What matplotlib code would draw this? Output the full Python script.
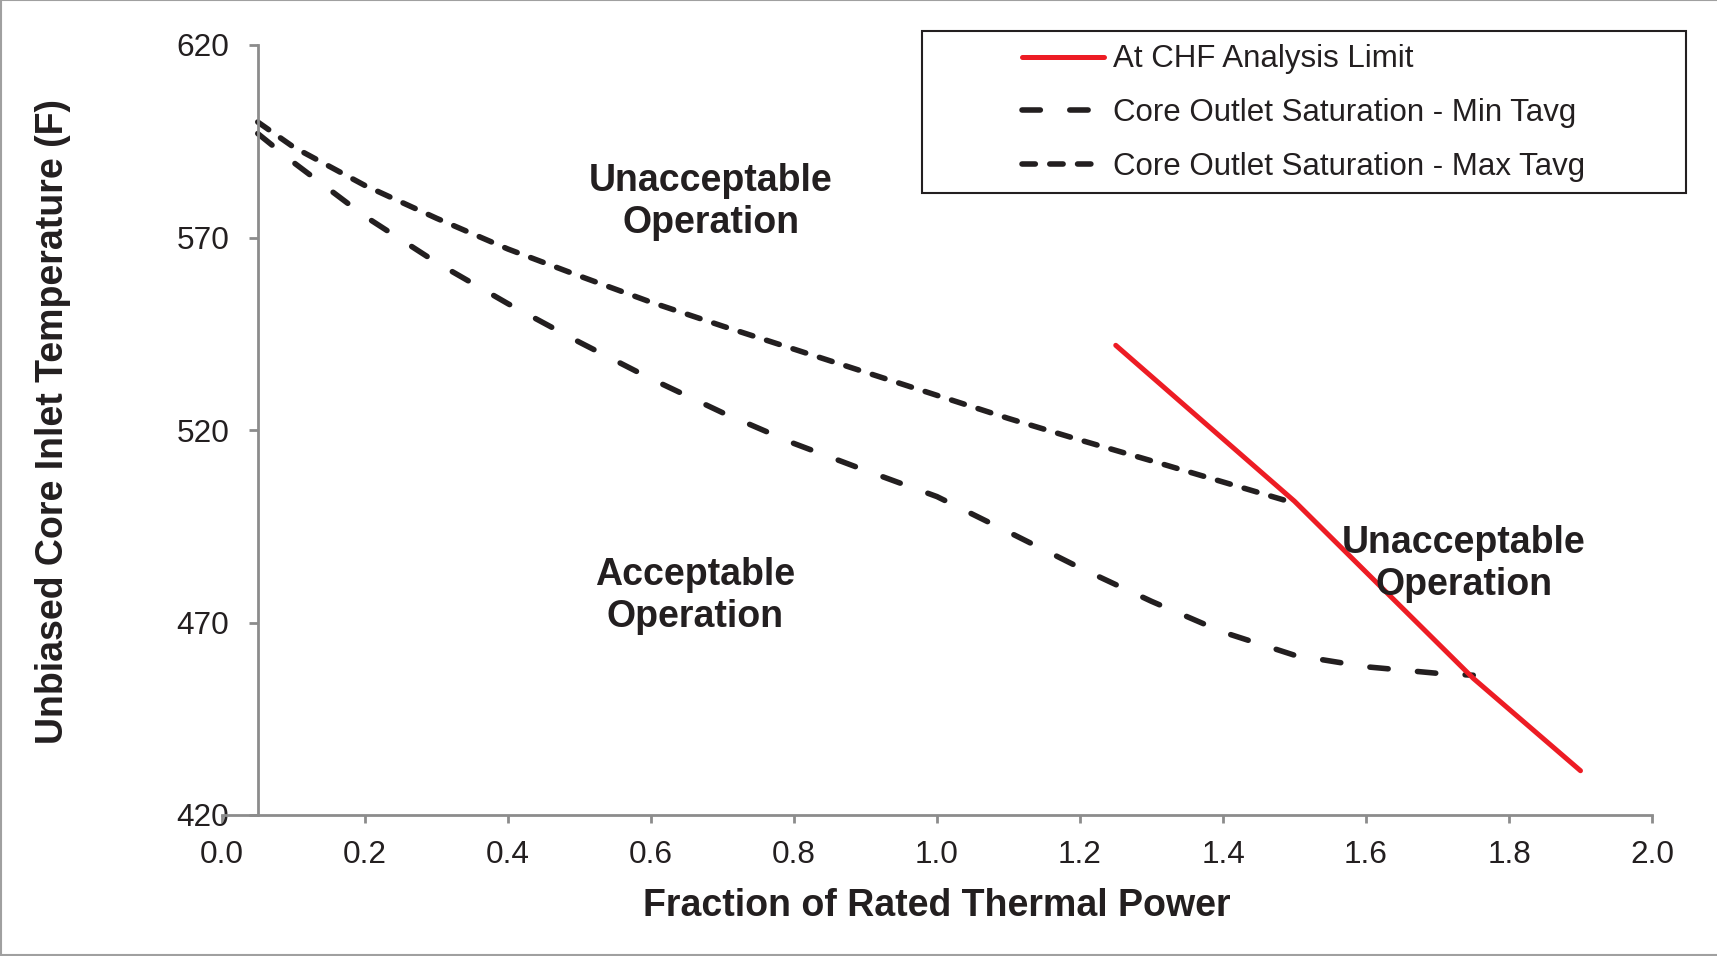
import matplotlib
matplotlib.use("Agg")
import matplotlib.pyplot as plt
from matplotlib.lines import Line2D
from matplotlib.patches import Rectangle

plt.rcParams["font.family"] = ["Liberation Sans", "DejaVu Sans"]

# Fraction of rated thermal power vs. unbiased core inlet temperature (F)
chf_power = [1.25, 1.50, 1.75, 1.90]
chf_temp = [542.0, 501.5, 455.5, 431.5]

min_tavg_power = [0.05, 0.10, 0.20, 0.30, 0.40, 0.50, 0.60, 0.70, 0.80, 0.90,
                  1.00, 1.10, 1.20, 1.30, 1.40, 1.50, 1.60, 1.70, 1.75]
min_tavg_temp = [597.0, 589.5, 575.5, 563.5, 552.8, 542.8, 533.3, 524.5, 516.5, 509.5,
                 502.7, 493.5, 484.2, 475.5, 467.5, 461.5, 458.5, 456.8, 456.3]

max_tavg_power = [0.05, 0.10, 0.20, 0.30, 0.40, 0.50, 0.60, 0.70, 0.80, 0.90,
                  1.00, 1.10, 1.20, 1.30, 1.40, 1.50]
max_tavg_temp = [600.0, 593.5, 583.5, 575.0, 567.0, 560.0, 553.2, 547.0, 541.0, 535.0,
                 529.0, 523.0, 517.4, 512.0, 506.5, 501.0]

x_ticks = [0.0, 0.2, 0.4, 0.6, 0.8, 1.0, 1.2, 1.4, 1.6, 1.8, 2.0]
y_ticks = [420, 470, 520, 570, 620]

series_labels = ["At CHF Analysis Limit",
                 "Core Outlet Saturation - Min Tavg",
                 "Core Outlet Saturation - Max Tavg"]

INK = "#231F20"
RED = "#ED1C24"
AXIS_GRAY = "#8C8C8C"

W, H = 1717, 956
fig = plt.figure(figsize=(W / 100, H / 100), dpi=100)
ax = fig.add_axes([222 / W, 1 - 815 / H, 1430 / W, 770 / H])

ax.set_xlim(0, 2.0)
ax.set_ylim(420, 620)

l_chf, = ax.plot(chf_power, chf_temp, color=RED, lw=3.6,
                 solid_capstyle="round", label=series_labels[0], zorder=3)
l_min, = ax.plot(min_tavg_power, min_tavg_temp, color=INK, lw=4,
                 dashes=(3.3, 5.3), dash_capstyle="round",
                 label=series_labels[1], zorder=2)
l_max, = ax.plot(max_tavg_power, max_tavg_temp, color=INK, lw=4,
                 dashes=(2.4, 2.6), dash_capstyle="round",
                 label=series_labels[2], zorder=2)

# Axes: vertical axis crosses at 0.05
for side in ("top", "right"):
    ax.spines[side].set_visible(False)
ax.spines["left"].set_position(("data", 0.05))
for side in ("left", "bottom"):
    ax.spines[side].set_color(AXIS_GRAY)
    ax.spines[side].set_linewidth(2)

ax.set_xticks(x_ticks)
ax.set_xticklabels([f"{v:.1f}" for v in x_ticks])
ax.set_yticks(y_ticks)
ax.set_yticklabels([str(v) for v in y_ticks])
ax.tick_params(axis="x", direction="out", length=6, width=2, color=AXIS_GRAY,
               pad=12, labelsize=22.7, labelcolor=INK)
ax.tick_params(axis="y", direction="out", length=6.5, width=2, color=AXIS_GRAY,
               pad=14, labelsize=22.7, labelcolor=INK)

ax.set_xlabel("Fraction of Rated Thermal Power", fontsize=27,
              fontweight="bold", color=INK)
ax.xaxis.set_label_coords(0.5, (815 - 906.5) / 770)
ax.xaxis.label.set_va("center")
ax.set_ylabel("Unbiased Core Inlet Temperature (F)", fontsize=27,
              fontweight="bold", color=INK)
ax.yaxis.set_label_coords((52.6 - 222) / 1430, (815 - 421.6) / 770)
ax.yaxis.label.set_va("center")

# Region annotations
region_kw = dict(fontsize=27, fontweight="bold", color=INK,
                 ha="center", va="center", linespacing=1.21)
ax.text(0.684, 579.2, "Unacceptable\nOperation", **region_kw)
ax.text(0.662, 476.8, "Acceptable\nOperation", **region_kw)
ax.text(1.737, 485.3, "Unacceptable\nOperation", zorder=4, **region_kw)

# Legend with its own frame box
leg = fig.legend(handles=[l_chf, l_min, l_max], loc="upper left",
                 bbox_to_anchor=(1022 / W, 1 - 44.5 / H), frameon=False,
                 fontsize=22.5, handlelength=2.62, handletextpad=0.3,
                 labelspacing=0.76, borderpad=0, borderaxespad=0)
for t in leg.get_texts():
    t.set_color(INK)
fig.add_artist(Rectangle((922 / W, 1 - 193 / H), (1686 - 922) / W, (193 - 31) / H,
                         transform=fig.transFigure, fill=False,
                         edgecolor=INK, linewidth=1.5))

# Outer frame
frame_kw = dict(transform=fig.transFigure, color="#A0A0A0", linewidth=1.5)
fig.add_artist(Line2D([0.0005, 1.0], [0.9995, 0.9995], **frame_kw))
fig.add_artist(Line2D([0.0005, 0.0005], [0.0005, 0.9995], **frame_kw))
fig.add_artist(Line2D([0.0005, 1.0], [0.0015, 0.0015], **frame_kw))

fig.savefig("out.png", dpi=100, facecolor="white")
